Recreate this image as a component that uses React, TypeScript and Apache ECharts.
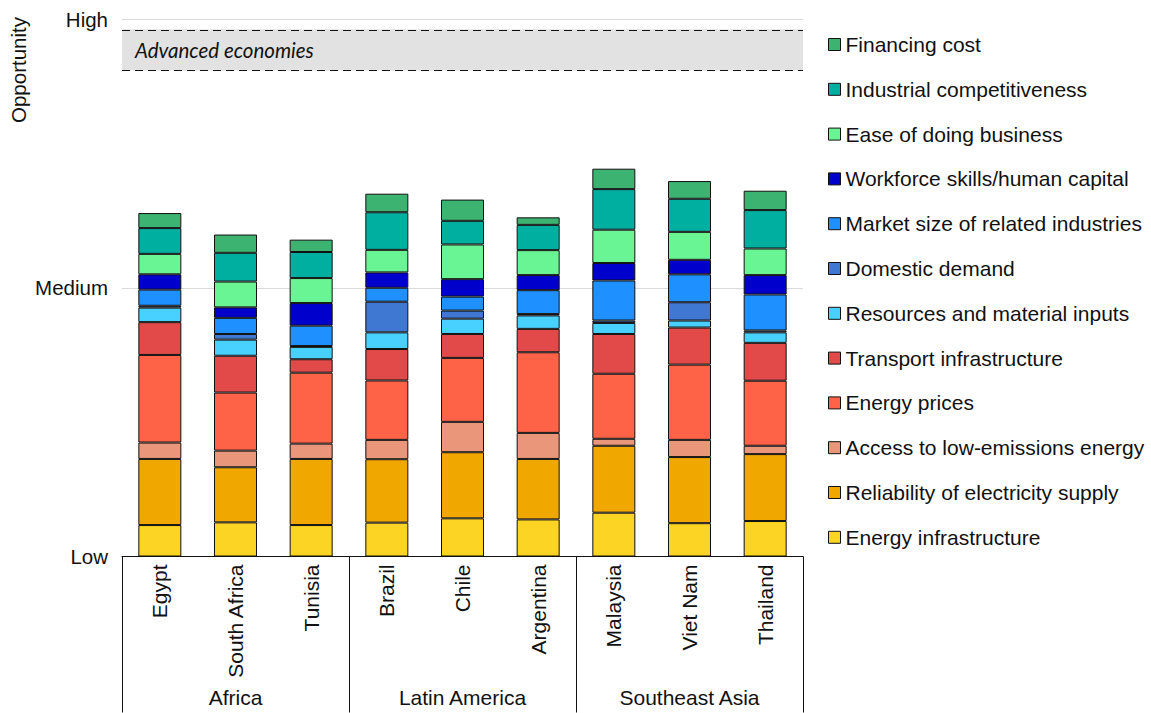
import React, { useEffect, useRef } from "react";
import * as echarts from "echarts";

const countries = ["Egypt", "South Africa", "Tunisia", "Brazil", "Chile", "Argentina", "Malaysia", "Viet Nam", "Thailand"];
const regions = ["Africa", "Latin America", "Southeast Asia"];
const yTickLabels = ["Low", "Medium", "High"];

// Stack order: bottom to top
const energyInfrastructure = [0.117, 0.127, 0.117, 0.126, 0.142, 0.138, 0.163, 0.124, 0.132];
const reliability = [0.246, 0.205, 0.246, 0.236, 0.246, 0.225, 0.249, 0.246, 0.249];
const accessLowEmissions = [0.061, 0.062, 0.057, 0.072, 0.113, 0.097, 0.026, 0.064, 0.031];
const energyPrices = [0.326, 0.216, 0.264, 0.221, 0.238, 0.300, 0.242, 0.280, 0.242];
const transport = [0.122, 0.137, 0.050, 0.117, 0.089, 0.087, 0.148, 0.138, 0.141];
const resources = [0.054, 0.060, 0.046, 0.062, 0.057, 0.050, 0.041, 0.026, 0.039];
const domesticDemand = [0.007, 0.021, 0.003, 0.114, 0.030, 0.005, 0.009, 0.068, 0.007];
const marketSize = [0.060, 0.060, 0.076, 0.052, 0.052, 0.089, 0.149, 0.104, 0.134];
const workforce = [0.057, 0.039, 0.084, 0.057, 0.065, 0.056, 0.065, 0.054, 0.072];
const easeOfBusiness = [0.076, 0.096, 0.093, 0.084, 0.129, 0.093, 0.124, 0.104, 0.099];
const industrial = [0.096, 0.107, 0.097, 0.140, 0.088, 0.094, 0.151, 0.123, 0.143];
const financing = [0.056, 0.068, 0.046, 0.069, 0.079, 0.028, 0.076, 0.066, 0.072];

const advancedBand = [1.808, 1.962];

const seriesDefs = [
  { name: "Energy infrastructure", data: energyInfrastructure, color: "#FCD423" },
  { name: "Reliability of electricity supply", data: reliability, color: "#F0A800" },
  { name: "Access to low-emissions energy", data: accessLowEmissions, color: "#E9967A" },
  { name: "Energy prices", data: energyPrices, color: "#FF6347" },
  { name: "Transport infrastructure", data: transport, color: "#E24A4A" },
  { name: "Resources and material inputs", data: resources, color: "#48D1FF" },
  { name: "Domestic demand", data: domesticDemand, color: "#3E78D2" },
  { name: "Market size of related industries", data: marketSize, color: "#1E90FF" },
  { name: "Workforce skills/human capital", data: workforce, color: "#0000CD" },
  { name: "Ease of doing business", data: easeOfBusiness, color: "#6AF594" },
  { name: "Industrial competitiveness", data: industrial, color: "#00AFA0" },
  { name: "Financing cost", data: financing, color: "#3CB371" },
];

const FONT = "'Liberation Sans', Arial, sans-serif";
const FS = 21;

export default function App() {
  const ref = useRef<HTMLDivElement>(null);
  useEffect(() => {
    document.body.style.margin = "0";
    const chart = echarts.init(ref.current!, null, { renderer: "svg" });
    const series: any[] = seriesDefs.map((s, i) => {
      const o: any = {
        name: s.name,
        type: "bar",
        stack: "total",
        barWidth: 43,
        data: s.data,
        itemStyle: { color: s.color, borderColor: "#111", borderWidth: 1 },
        emphasis: { disabled: true },
      };
      if (i === 0) {
        o.markArea = {
          silent: true,
          itemStyle: { color: "#e2e2e2" },
          label: {
            show: true,
            position: "insideLeft",
            offset: [8, 0],
            fontFamily: "Lato, 'Open Sans', sans-serif",
            fontStyle: "italic",
            fontSize: 20.5,
            color: "#111",
          },
          data: [[{ yAxis: advancedBand[0], name: "Advanced economies" }, { yAxis: advancedBand[1] }]],
        };
        o.markLine = {
          silent: true,
          symbol: "none",
          label: { show: false },
          lineStyle: { color: "#111", type: [8, 5], width: 1 },
          data: [{ yAxis: advancedBand[0] }, { yAxis: advancedBand[1] }],
        };
      }
      return o;
    });
    chart.setOption({
      animation: false,
      textStyle: { fontFamily: FONT },
      grid: { left: 122, width: 681, top: 19, bottom: 156.5, containLabel: false },
      legend: {
        orient: "vertical",
        left: 828,
        top: 34,
        padding: 0,
        icon: "rect",
        itemWidth: 12,
        itemHeight: 12,
        itemGap: 23.8,
        textStyle: { fontFamily: FONT, fontSize: FS, color: "#111", lineHeight: 20 },
        itemStyle: { borderColor: "#111", borderWidth: 1 },
        data: seriesDefs.map((s) => s.name).reverse(),
      },
      xAxis: [
        {
          type: "category",
          data: countries,
          axisLine: { lineStyle: { color: "#111", width: 1 } },
          axisTick: { show: false },
          axisLabel: { rotate: 90, margin: 8, fontSize: FS, color: "#111", fontFamily: FONT },
        },
        {
          type: "category",
          data: regions,
          position: "bottom",
          boundaryGap: true,
          axisLine: { show: false },
          axisTick: { show: true, length: 156, lineStyle: { color: "#111", width: 1 } },
          axisLabel: { margin: 130, fontSize: FS, color: "#111", fontFamily: FONT },
        },
      ],
      yAxis: {
        type: "value",
        min: 0,
        max: 2,
        interval: 1,
        axisLine: { show: false },
        axisTick: { show: false },
        splitLine: { lineStyle: { color: "#d9d9d9", width: 1 } },
        axisLabel: {
          margin: 14,
          fontSize: 20.5,
          color: "#111",
          fontFamily: FONT,
          formatter: (v: number) => yTickLabels[Math.round(v)] ?? "",
        },
      },
      graphic: [
        {
          type: "text",
          x: 18,
          y: 70,
          rotation: Math.PI / 2,
          style: {
            text: "Opportunity",
            font: `20.5px ${FONT}`,
            fill: "#111",
            align: "center",
            verticalAlign: "middle",
            textAlign: "center",
            textVerticalAlign: "middle",
          },
        },
      ],
      series,
    });
    return () => chart.dispose();
  }, []);
  return <div ref={ref} style={{ width: 1151, height: 713 }} />;
}
